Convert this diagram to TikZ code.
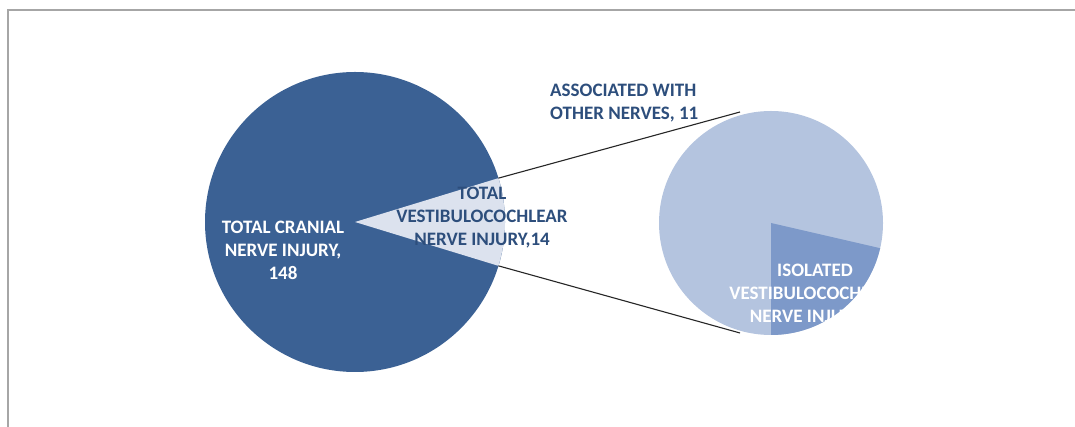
\documentclass[tikz,border=0pt]{standalone}
\usepackage{fontspec}
\setmainfont{Carlito}
\usetikzlibrary{calc}
\definecolor{darkpie}{HTML}{3B6194}
\definecolor{lightpie}{HTML}{B4C4DF}
\definecolor{midpie}{HTML}{7D99C9}
\definecolor{wedge}{HTML}{DCE2EE}
\definecolor{labelblue}{HTML}{2D4E7C}
\definecolor{frame}{HTML}{A6A6A6}
\begin{document}
\begin{tikzpicture}[x=1pt,y=1pt,
  lbl/.style={font=\bfseries\fontsize{19}{23}\selectfont, align=center, inner sep=0pt},
  conn/.style={draw=black!85, line width=1.1pt}]
\useasboundingbox (0,0) rectangle (1075,427);
\fill[white] (0,0) rectangle (1075,427);
\draw[frame, line width=1.6pt] (8,0) -- (8,417) -- (1075,417);
% left pie
\coordinate (c1) at (355,205);
\fill[darkpie] (c1) circle (150);
\fill[wedge] (c1) -- ++(-17:150) arc (-17:17:150) -- cycle;
% right pie
\coordinate (c2) at (771,204);
\fill[lightpie] (c2) circle (112);
\fill[midpie] (c2) -- ++(-90:112) arc (-90:-13:112) -- cycle;
% connectors
\coordinate (a1) at ($(c1)+(17:150)$);
\coordinate (a2) at ($(c1)+(-17:150)$);
\coordinate (b1) at (740,315);
\coordinate (b2) at (740,94);
\draw[conn] (a1) -- (b1);
\draw[conn] (a2) -- (b2);
% labels
\node[lbl, text=white] (l1) at (283,177) {TOTAL CRANIAL\\NERVE INJURY,\\148};
\node[lbl, text=labelblue] (l2) at (482,209) {TOTAL\\VESTIBULOCOCHLEAR\\NERVE INJURY,14};
\node[lbl, text=labelblue, align=left, anchor=west] (l3) at (550,324) {ASSOCIATED WITH\\OTHER NERVES, 11};
\begin{scope}
\clip (600,0) rectangle (863,427);
\node[lbl, text=white] (l4) at (815,132) {ISOLATED\\VESTIBULOCOCHLEAR\\NERVE INJURY, 3};
\end{scope}
\end{tikzpicture}
\end{document}
